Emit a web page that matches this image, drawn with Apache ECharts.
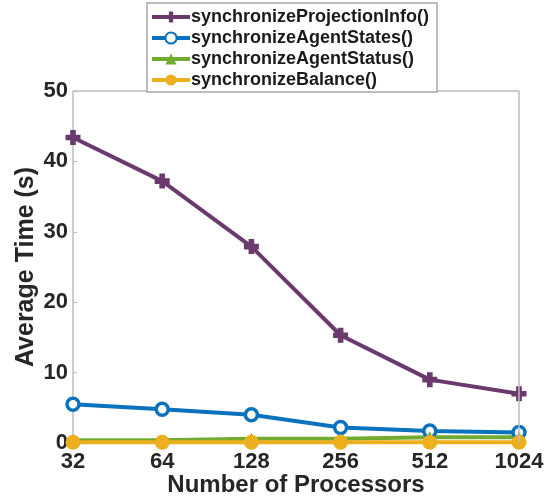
<!DOCTYPE html>
<html>
<head>
<meta charset="utf-8">
<script src="https://cdn.jsdelivr.net/npm/echarts@6/dist/echarts.min.js"></script>
<style>
  html, body { margin: 0; padding: 0; background: #fff; }
  #chart { width: 550px; height: 500px; }
</style>
</head>
<body>
<div id="chart"></div>
<script>
// Processor counts on the x axis
const processors = ['32', '64', '128', '256', '512', '1024'];

// Average time (s) per synchronization routine
const projectionInfo = [43.4, 37.2, 27.9, 15.3, 9.0, 7.0];
const agentStates = [5.5, 4.8, 4.0, 2.2, 1.7, 1.5];
const agentStatus = [0.4, 0.4, 0.6, 0.6, 0.8, 0.8];
const balance = [0.1, 0.1, 0.1, 0.1, 0.1, 0.1];

const yTicks = [0, 10, 20, 30, 40, 50];

const seriesNames = [
  'synchronizeProjectionInfo()',
  'synchronizeAgentStates()',
  'synchronizeAgentStatus()',
  'synchronizeBalance()'
];

const colors = ['#6a3a6c', '#0b72bd', '#72ab2f', '#ecb01f'];

// bold plus marker
const plusPath = 'path://M-1.7,-4.5 L1.7,-4.5 L1.7,-1.7 L4.5,-1.7 L4.5,1.7 L1.7,1.7 L1.7,4.5 L-1.7,4.5 L-1.7,1.7 L-4.5,1.7 L-4.5,-1.7 L-1.7,-1.7 Z';

const font = 'Liberation Sans, Arial, Helvetica, sans-serif';

const chart = echarts.init(document.getElementById('chart'), null, { renderer: 'canvas' });

function lineSeries(name, data, color, symbol, size, itemStyle) {
  return {
    name: name,
    type: 'line',
    data: data,
    symbol: symbol,
    symbolSize: size,
    showAllSymbol: true,
    lineStyle: { color: color, width: 4 },
    itemStyle: itemStyle || { color: color },
    emphasis: { disabled: true },
    animation: false,
    z: 3
  };
}

chart.setOption({
  animation: false,
  backgroundColor: '#ffffff',
  grid: {
    left: 73, right: 31, top: 91, bottom: 57,
    show: false, containLabel: false, outerBoundsMode: 'none'
  },
  legend: {
    orient: 'vertical',
    left: 147,
    top: 3,
    padding: [5, 8, 3, 3],
    itemGap: 3,
    itemWidth: 38,
    itemHeight: 14,
    backgroundColor: '#ffffff',
    borderColor: '#a8a8a8',
    borderWidth: 1.5,
    borderRadius: 0,
    z: 10,
    lineStyle: { width: 4 },
    textStyle: { fontFamily: font, fontWeight: 'bold', fontSize: 18, color: '#1a1a1a', padding: [0, 0, 0, -4] },
    data: seriesNames
  },
  xAxis: {
    type: 'category',
    data: processors,
    boundaryGap: false,
    name: 'Number of Processors',
    nameLocation: 'middle',
    nameGap: 30,
    nameMoveOverlap: false,
    nameTextStyle: { fontFamily: font, fontWeight: 'bold', fontSize: 24, color: '#262626' },
    axisLine: { show: true, lineStyle: { color: '#bdbdbd', width: 1.5 } },
    axisTick: { show: true, inside: true, length: 4, alignWithLabel: true, lineStyle: { color: '#bdbdbd' } },
    axisLabel: { fontFamily: font, fontWeight: 'bold', fontSize: 22, color: '#262626', margin: 8 },
    splitLine: { show: false }
  },
  yAxis: {
    type: 'value',
    min: yTicks[0],
    max: yTicks[yTicks.length - 1],
    interval: 10,
    name: 'Average Time (s)',
    nameLocation: 'middle',
    nameGap: 34,
    nameMoveOverlap: false,
    nameTextStyle: { fontFamily: font, fontWeight: 'bold', fontSize: 25, color: '#262626' },
    axisLine: { show: true, lineStyle: { color: '#bdbdbd', width: 1.5 } },
    axisTick: { show: true, inside: true, length: 4, lineStyle: { color: '#bdbdbd' } },
    axisLabel: { fontFamily: font, fontWeight: 'bold', fontSize: 22, color: '#262626', margin: 5 },
    splitLine: { show: false }
  },
  series: [
    lineSeries(seriesNames[0], projectionInfo, colors[0], plusPath, 15),
    lineSeries(seriesNames[1], agentStates, colors[1], 'circle', 12,
      { color: '#ffffff', borderColor: colors[1], borderWidth: 3.5 }),
    lineSeries(seriesNames[2], agentStatus, colors[2], 'triangle', 12),
    lineSeries(seriesNames[3], balance, colors[3], 'circle', 15),
    // top and right frame of the axes box
    {
      type: 'line',
      data: [],
      markLine: {
        silent: true,
        symbol: 'none',
        animation: false,
        label: { show: false },
        lineStyle: { color: '#bdbdbd', width: 1.5, type: 'solid' },
        data: [
          [{ coord: [processors[0], yTicks[yTicks.length - 1]] }, { coord: [processors[processors.length - 1], yTicks[yTicks.length - 1]] }],
          [{ coord: [processors[processors.length - 1], yTicks[0]] }, { coord: [processors[processors.length - 1], yTicks[yTicks.length - 1]] }]
        ]
      },
      z: 1
    }
  ]
});
</script>
</body>
</html>
